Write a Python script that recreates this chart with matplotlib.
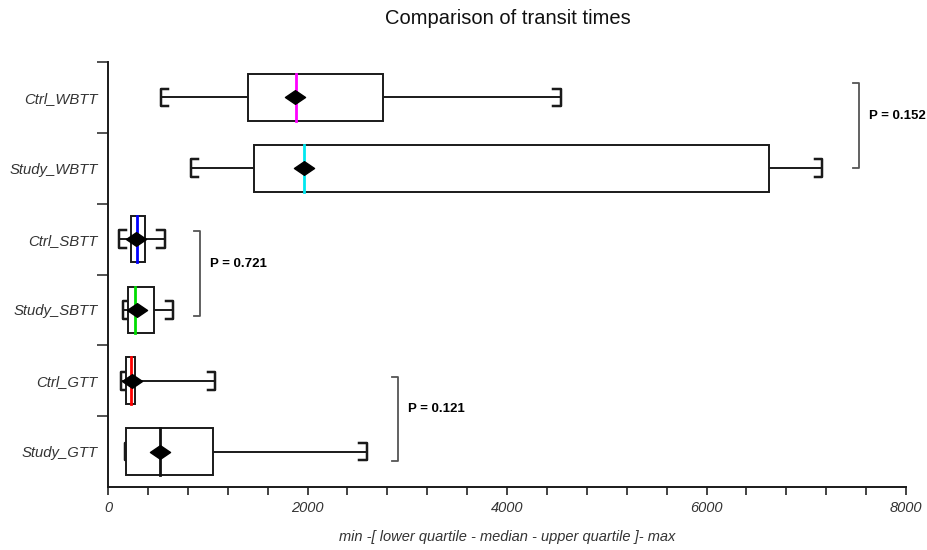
import matplotlib
matplotlib.use("Agg")
import matplotlib.pyplot as plt
from matplotlib.path import Path
from matplotlib.patches import Rectangle
from matplotlib.ticker import MultipleLocator, FixedLocator

categories = ["Ctrl_WBTT", "Study_WBTT", "Ctrl_SBTT", "Study_SBTT", "Ctrl_GTT", "Study_GTT"]
mins    = [531, 832, 110, 150, 130, 170]
q1      = [1403, 1464, 230, 200, 180, 180]
medians = [1885, 1965, 290, 270, 230, 521]
q3      = [2757, 6627, 370, 461, 270, 1052]
maxs    = [4541, 7158, 571, 652, 1073, 2594]
means   = [1870, 1965, 280, 290, 240, 521]
median_colors = ["#ff00ff", "#00e8f0", "#0000ff", "#00dd00", "#ff0000", "#111111"]

p_labels = ["P = 0.152", "P = 0.721", "P = 0.121"]
p_x = [7525, 920, 2905]
p_top = [-0.2, 1.89, 3.94]
p_bot = [1.0, 3.08, 5.14]

plt.rcParams['font.family'] = ['Liberation Sans', 'DejaVu Sans']

fig = plt.figure(figsize=(9.27, 5.5), dpi=100)
ax = fig.add_axes([108/927, 1-487/550, (906-108)/927, (487-62)/550])

edge = "#1a1a1a"
bw = 0.66
cap_h = 0.25
serif = 75
lw = 1.4

diamond = Path([(-1, 0), (0, 0.68), (1, 0), (0, -0.68), (-1, 0)],
               [Path.MOVETO, Path.LINETO, Path.LINETO, Path.LINETO, Path.CLOSEPOLY])

for i, cat in enumerate(categories):
    y = i
    # whiskers
    ax.plot([mins[i], q1[i]], [y, y], color=edge, lw=lw, zorder=2)
    ax.plot([q3[i], maxs[i]], [y, y], color=edge, lw=lw, zorder=2)
    # caps: "[" at min, "]" at max
    ax.plot([mins[i] + serif, mins[i], mins[i], mins[i] + serif],
            [y - cap_h/2, y - cap_h/2, y + cap_h/2, y + cap_h/2], color=edge, lw=lw + 0.4, zorder=2)
    ax.plot([maxs[i] - serif, maxs[i], maxs[i], maxs[i] - serif],
            [y - cap_h/2, y - cap_h/2, y + cap_h/2, y + cap_h/2], color=edge, lw=lw + 0.4, zorder=2)
    # box
    ax.add_patch(Rectangle((q1[i], y - bw/2), q3[i] - q1[i], bw, facecolor="white",
                           edgecolor=edge, lw=lw, zorder=3))
    # median
    ax.plot([medians[i], medians[i]], [y - bw/2, y + bw/2], color=median_colors[i],
            lw=2.0, zorder=4)
    # mean
    ax.plot([means[i]], [y], marker=diamond, markersize=14.5, color="black", zorder=5)

# significance brackets
for px, yt, yb, lab in zip(p_x, p_top, p_bot, p_labels):
    ax.plot([px - 60, px, px, px - 60], [yt, yt, yb, yb], color="#555555", lw=1.3,
            clip_on=False, zorder=2)
    ax.text(px + 100, (yt + yb) / 2 - 0.14, lab, fontsize=9.5, fontweight="bold",
            family=["Liberation Sans", "DejaVu Sans"], va="center", ha="left", clip_on=False)

ax.set_xlim(0, 8000)
ax.set_ylim(5.5, -0.5)
ax.xaxis.set_major_locator(MultipleLocator(2000))
ax.xaxis.set_minor_locator(MultipleLocator(400))
ax.yaxis.set_major_locator(FixedLocator(range(len(categories))))
ax.set_yticklabels(categories, fontsize=10.7, style="italic", color="#333333")
ax.yaxis.set_minor_locator(FixedLocator([k - 0.5 for k in range(len(categories))]))
ax.tick_params(axis="y", which="major", length=0, pad=7.5)
ax.tick_params(axis="y", which="minor", length=8, width=1.2, color="#333333")
ax.tick_params(axis="x", which="both", length=6, width=1.2, color="#222222",
               labelsize=10.5, labelcolor="#333333", pad=4)
for t in ax.get_xticklabels():
    t.set_style("italic")
for s in ["top", "right"]:
    ax.spines[s].set_visible(False)
for s in ["left", "bottom"]:
    ax.spines[s].set_linewidth(1.4)
    ax.spines[s].set_color("#1a1a1a")

ax.set_xlabel("min -[ lower quartile - median - upper quartile ]- max", fontsize=10.5,
              style="italic", color="#333333", labelpad=11)
fig.suptitle("Comparison of transit times", x=508/927, y=1-18/550, va="center",
             fontsize=14.5, color="#111111")

fig.savefig("out.png", dpi=100)
